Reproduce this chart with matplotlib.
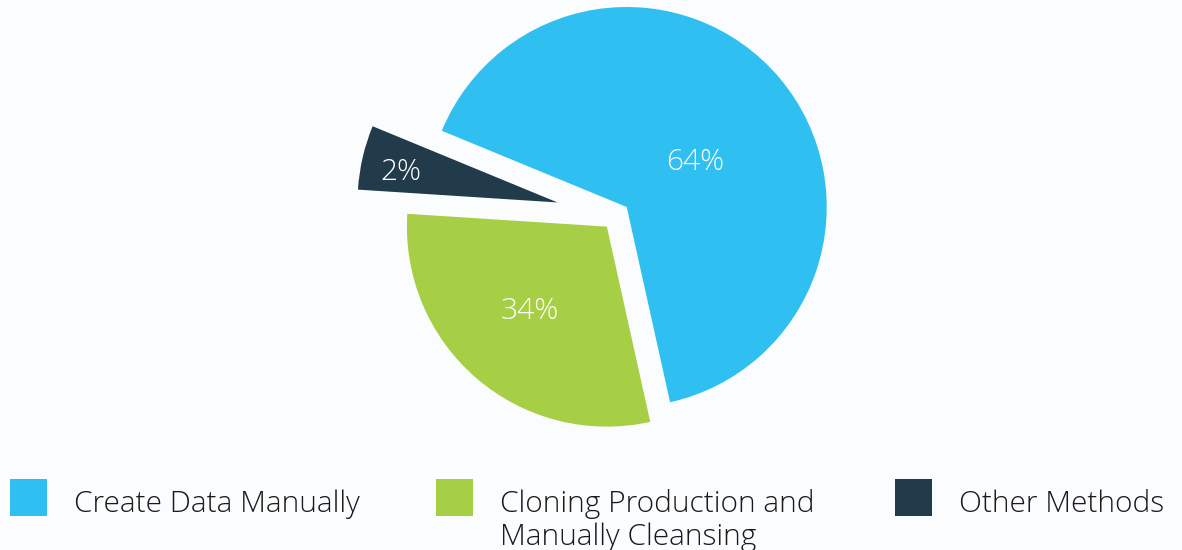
import matplotlib.pyplot as plt
import matplotlib.patches as mpatches
import numpy as np

# wedge sizes as drawn in the picture, and the percentages printed on them
categories = ['Create Data Manually', 'Cloning Production and\nManually Cleansing', 'Other Methods']
shares = [65.3, 29.5, 5.2]
pct_labels = ['64%', '34%', '2%']

colors = ['#2fc0f1', '#a7cf45', '#213b4b']
explode = [14, 14, 60]             # pixel offsets
label_dist = [0.417, 0.563, 0.80]  # fraction of radius for the % text
label_turn = [-5, -2.7, 1.2]       # degrees away from the wedge middle

plt.rcParams['font.family'] = ['Open Sans', 'DejaVu Sans']
bg = '#fbfcfe'
fs = 21.5
half_cap = 10.8

fig = plt.figure(figsize=(11.82, 5.5), dpi=100, facecolor=bg)
ax = fig.add_axes([0, 0, 1, 1])

wedges, _ = ax.pie(shares, colors=colors, explode=explode, startangle=157.6,
                   counterclock=False, center=(616, 334), radius=200,
                   wedgeprops=dict(linewidth=0), frame=True)
ax.set_xlim(0, 1182)
ax.set_ylim(0, 550)
ax.set_aspect('equal')
ax.axis('off')

for w, txt, d, turn in zip(wedges, pct_labels, label_dist, label_turn):
    th = np.deg2rad((w.theta1 + w.theta2) / 2 + turn)
    cx, cy = w.center
    ax.text(cx + d * w.r * np.cos(th), cy + d * w.r * np.sin(th) - half_cap, txt,
            color='white', fontsize=fs, fontweight='light',
            ha='center', va='baseline')

# legend drawn by hand so the square lines up with the first text line
leg_x = [10, 436, 895]
for x0, name, col in zip(leg_x, categories, colors):
    ax.add_patch(mpatches.Rectangle((x0, 34), 37, 37, color=col, lw=0))
    for i, line in enumerate(name.split('\n')):
        ax.text(x0 + 64, 38 - 33 * i, line, fontsize=fs, fontweight='light',
                color='#1a1a1a', va='baseline', ha='left')

fig.savefig('out.png', dpi=100, facecolor=bg)
